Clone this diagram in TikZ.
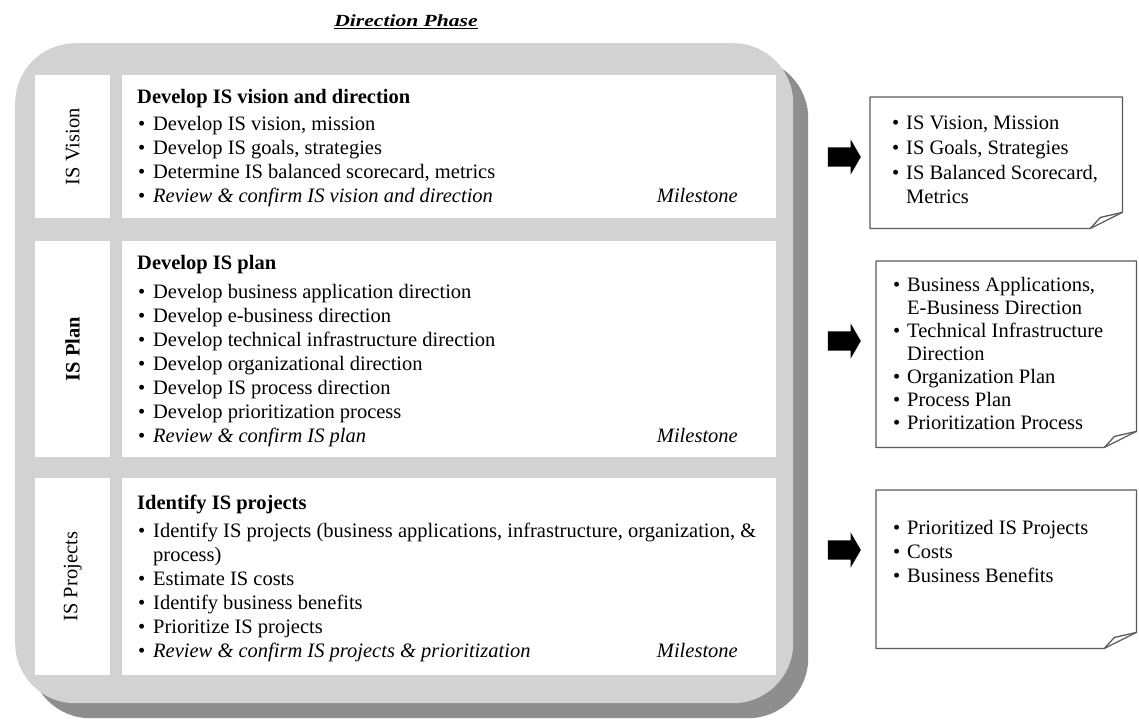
\documentclass[tikz,border=0pt]{standalone}
\usepackage{fontspec}
\setmainfont{Liberation Serif}
\usetikzlibrary{calc,shapes.arrows}
\definecolor{panelgray}{HTML}{D2D2D2}
\definecolor{shadowgray}{HTML}{8E8E8E}
\definecolor{notegray}{HTML}{5A5A5A}
\newcommand{\bodyfont}{\fontsize{20.5}{24}\selectfont}
\newcommand{\bul}{\makebox[15pt][l]{\textbullet}}
\newcommand{\nbul}{\makebox[14pt][l]{\textbullet}}

\begin{document}
\begin{tikzpicture}[x=1pt,y=-1pt,
  panel/.style={inner sep=0pt,rounded corners=60pt,anchor=north west},
  cell/.style={fill=white,inner sep=0pt,anchor=north west},
  item/.style={anchor=base west,inner sep=0pt,font=\bodyfont},
  head/.style={item,font=\bodyfont\bfseries},
  mile/.style={anchor=base east,inner sep=0pt,font=\bodyfont\itshape},
  side/.style={rotate=90,inner sep=0pt,font=\bodyfont},
  note/.style={inner sep=0pt,anchor=north west},
  notebox/.style={draw=notegray,line width=1.3pt,line join=round},
  blockarrow/.style={single arrow,fill=black,inner xsep=0pt,inner ysep=9.5pt,
    minimum height=33pt,single arrow head extend=8pt,single arrow tip angle=120}
]
\useasboundingbox (0,0) rectangle (1139,720);

% title
\node[anchor=base,inner sep=0pt,font=\fontsize{17}{20}\selectfont\bfseries\itshape] (title) at (406,27)
  {\underline{\scalebox{1.27}[1]{Direction Phase}}};

% panel with shadow
\node[panel,fill=shadowgray,minimum width=778,minimum height=660] (shadow) at (30,58) {};
\node[panel,fill=panelgray,minimum width=778,minimum height=660] (panel) at (15,43) {};

% rows
\node[cell,minimum width=75,minimum height=143] (vlab) at (35,75) {};
\node[cell,minimum width=654,minimum height=143] (vis) at (122,75) {};
\node[cell,minimum width=75,minimum height=216] (plab) at (35,241) {};
\node[cell,minimum width=654,minimum height=216] (plan) at (122,241) {};
\node[cell,minimum width=75,minimum height=197] (jlab) at (35,478) {};
\node[cell,minimum width=654,minimum height=197] (proj) at (122,478) {};

\node[side] at (vlab.center) {IS Vision};
\node[side,font=\bodyfont\bfseries] at (plab.center) {IS Plan};
\node[side] at (jlab.center) {IS Projects};

% IS vision
\node[head] (vhead) at (137,103) {Develop IS vision and direction};
\node[item] (v1) at (138,130) {\bul Develop IS vision, mission};
\node[item] (v2) at (138,154) {\bul Develop IS goals, strategies};
\node[item] (v3) at (138,178) {\bul Determine IS balanced scorecard, metrics};
\node[item] (v4) at (138,202) {\bul\textit{Review \& confirm IS vision and direction}};
\node[mile] (vms) at (738,202) {Milestone};

% IS plan
\node[head] (phead) at (137,269) {Develop IS plan};
\node[item] (p1) at (138,298) {\bul Develop business application direction};
\node[item] (p2) at (138,322) {\bul Develop e-business direction};
\node[item] (p3) at (138,346) {\bul Develop technical infrastructure direction};
\node[item] (p4) at (138,370) {\bul Develop organizational direction};
\node[item] (p5) at (138,394) {\bul Develop IS process direction};
\node[item] (p6) at (138,418) {\bul Develop prioritization process};
\node[item] (p7) at (138,442) {\bul\textit{Review \& confirm IS plan}};
\node[mile] (pms) at (738,442) {Milestone};

% IS projects
\node[head] (jhead) at (137,509) {Identify IS projects};
\node[item] (j1) at (138,537) {\bul Identify IS projects (business applications, infrastructure, organization, \&};
\node[item] (j1b) at (153,561) {process)};
\node[item] (j2) at (138,585) {\bul Estimate IS costs};
\node[item] (j3) at (138,609) {\bul Identify business benefits};
\node[item] (j4) at (138,633) {\bul Prioritize IS projects};
\node[item] (j5) at (138,657) {\bul\textit{Review \& confirm IS projects \& prioritization}};
\node[mile] (jms) at (738,657) {Milestone};

% deliverables
\node[note,minimum width=252,minimum height=131] (out1) at (870,97) {};
\node[note,minimum width=260,minimum height=186] (out2) at (876,261) {};
\node[note,minimum width=260,minimum height=158] (out3) at (876,490) {};
\foreach \o in {out1,out2,out3}{
  \draw[notebox] (\o.north west) -- (\o.north east) -- ($(\o.south east)+(0,-16)$)
    -- ($(\o.south east)+(-32,0)$) -- (\o.south west) -- cycle;
  \draw[notebox] ($(\o.south east)+(-32,0)$) -- ($(\o.south east)+(-22,-11)$)
    -- ($(\o.south east)+(0,-16)$);
}

\node[item] (o11) at (892,129) {\nbul IS Vision, Mission};
\node[item] (o12) at (892,154) {\nbul IS Goals, Strategies};
\node[item] (o13) at (892,179) {\nbul IS Balanced Scorecard,};
\node[item] (o14) at (906,203) {Metrics};

\node[item] (o21) at (893,291) {\nbul Business Applications,};
\node[item] (o22) at (907,314) {E-Business Direction};
\node[item] (o23) at (893,337) {\nbul Technical Infrastructure};
\node[item] (o24) at (907,360) {Direction};
\node[item] (o25) at (893,383) {\nbul Organization Plan};
\node[item] (o26) at (893,406) {\nbul Process Plan};
\node[item] (o27) at (893,429) {\nbul Prioritization Process};

\node[item] (o31) at (893,534) {\nbul Prioritized IS Projects};
\node[item] (o32) at (893,558) {\nbul Costs};
\node[item] (o33) at (893,582) {\nbul Business Benefits};

% arrows
\node[blockarrow] (a1) at (841.5,157) {};
\node[blockarrow] (a2) at (841.5,341) {};
\node[blockarrow] (a3) at (841.5,550) {};
\end{tikzpicture}
\end{document}
